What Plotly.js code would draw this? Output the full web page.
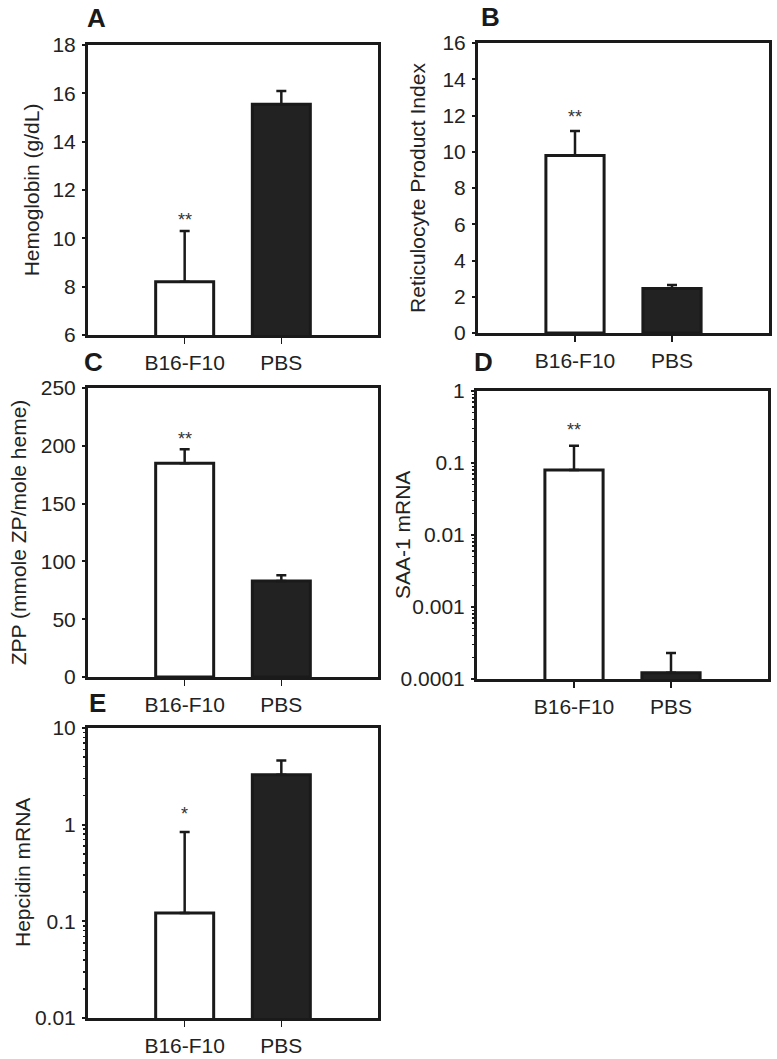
<!DOCTYPE html>
<html><head><meta charset="utf-8">
<script src="https://cdn.plot.ly/plotly-3.0.1.min.js"></script>
<style>html,body{margin:0;padding:0;background:#fff}#chart{width:777px;height:1059px}</style>
</head><body><div id="chart"></div>
<script>
// ---- data ----
const categories = ['B16-F10', 'PBS'];

const hemoglobin = [8.2, 15.55];
const hemoglobinErr = [2.1, 0.55];
const hemoglobinSig = ['**', ''];

const reticulocyte = [9.8, 2.45];
const reticulocyteErr = [1.35, 0.2];
const reticulocyteSig = ['**', ''];

const zpp = [185, 83];
const zppErr = [12, 5];
const zppSig = ['**', ''];

const saa1 = [0.08, 0.000122];
const saa1Err = [0.094, 0.000108];
const saa1Sig = ['**', ''];

const hepcidin = [0.122, 3.29];
const hepcidinErr = [0.718, 1.33];
const hepcidinSig = ['*', ''];

const saa1TickVals = [0.0001, 0.001, 0.01, 0.1, 1];
const saa1TickText = ['0.0001', '0.001', '0.01', '0.1', '1'];
const hepcidinTickVals = [0.01, 0.1, 1, 10];
const hepcidinTickText = ['0.01', '0.1', '1', '10'];

const panelLetters = ['A', 'B', 'C', 'D', 'E'];
const yTitles = ['Hemoglobin (g/dL)', 'Reticulocyte Product Index', 'ZPP (mmole ZP/mole heme)', 'SAA-1 mRNA', 'Hepcidin mRNA'];

// ---- style ----
const W = 777, H = 1059;
const FONT = 'Liberation Sans, Arial, sans-serif';
const INK = '#1a1a1a';
const fillColors = ['#ffffff', '#222222'];

// titleX: when set, the y title is drawn as a rotated annotation at that pixel x
const panels = [
  {vals: hemoglobin, err: hemoglobinErr, sig: hemoglobinSig, log: false, range: [6, 18], dtick: 2,
   px: [88, 378], py: [45, 335], standoff: 8, letter: [96, 18], sigShift: -1},
  {vals: reticulocyte, err: reticulocyteErr, sig: reticulocyteSig, log: false, range: [0, 16], dtick: 2,
   px: [478, 769], py: [43, 333], standoff: 12, letter: [490, 17], sigShift: 2},
  {vals: zpp, err: zppErr, sig: zppSig, log: false, range: [0, 250], dtick: 50,
   px: [88, 378], py: [388, 677], standoff: 9, letter: [93, 362], sigShift: -2},
  {vals: saa1, err: saa1Err, sig: saa1Sig, log: true, range: [-4, 0], tv: saa1TickVals, tt: saa1TickText,
   px: [477, 768], py: [391, 679], titleX: 402, letter: [483, 362], sigShift: 4},
  {vals: hepcidin, err: hepcidinErr, sig: hepcidinSig, log: true, range: [-2, 1], tv: hepcidinTickVals, tt: hepcidinTickText,
   px: [88, 378], py: [728, 1018], titleX: 22, letter: [97, 703], sigShift: 6}
];

const data = [];
const layout = {
  width: W, height: H,
  margin: {l: 0, r: 0, t: 0, b: 0},
  paper_bgcolor: '#fff', plot_bgcolor: '#fff',
  showlegend: false,
  font: {family: FONT, color: '#222', size: 21},
  annotations: []
};

panels.forEach((p, i) => {
  const n = i + 1;
  const xa = n === 1 ? 'xaxis' : 'xaxis' + n;
  const ya = n === 1 ? 'yaxis' : 'yaxis' + n;
  const xr = n === 1 ? 'x' : 'x' + n;
  const yr = n === 1 ? 'y' : 'y' + n;

  data.push({
    type: 'bar', x: categories, y: p.vals, xaxis: xr, yaxis: yr, width: 0.6,
    marker: {color: fillColors, line: {color: INK, width: 3}},
    error_y: {type: 'data', symmetric: false, array: p.err, arrayminus: [0, 0],
              color: INK, thickness: 2.5, width: 5},
    hoverinfo: 'skip'
  });

  layout[xa] = {
    domain: [p.px[0] / W, p.px[1] / W], anchor: yr,
    type: 'category', range: [-1, 2],
    showline: true, linewidth: 3, linecolor: INK, mirror: true,
    ticks: 'outside', ticklen: 6, tickwidth: 1.5, tickcolor: INK,
    ticklabelstandoff: 1,
    showgrid: false, zeroline: false, fixedrange: true,
    tickfont: {family: FONT, size: 21, color: '#222'}
  };
  const yax = {
    domain: [1 - p.py[1] / H, 1 - p.py[0] / H], anchor: xr,
    showline: true, linewidth: 3, linecolor: INK, mirror: true,
    ticks: 'outside', ticklen: 3, tickwidth: 2, tickcolor: INK,
    ticklabelstandoff: 2,
    showgrid: false, zeroline: false, fixedrange: true,
    tickfont: {family: FONT, size: 21, color: '#222'}
  };
  if (p.titleX === undefined) {
    yax.title = {text: yTitles[i], font: {family: FONT, size: 21, color: '#222'}, standoff: p.standoff};
  } else {
    layout.annotations.push({
      xref: 'paper', yref: yr + ' domain', x: p.titleX / W, y: 0.5,
      xanchor: 'center', yanchor: 'middle', textangle: -90, showarrow: false,
      text: yTitles[i], font: {family: FONT, size: 21, color: '#222'}
    });
  }
  if (p.log) {
    Object.assign(yax, {type: 'log', range: p.range, tickmode: 'array', tickvals: p.tv, ticktext: p.tt,
      minor: {ticks: 'outside', ticklen: 2, tickwidth: 1.5, tickcolor: INK, dtick: 'D1', showgrid: false}});
  } else {
    Object.assign(yax, {range: p.range, dtick: p.dtick, tick0: 0});
  }
  layout[ya] = yax;

  // significance marks
  p.sig.forEach((s, j) => {
    if (!s) return;
    const top = p.vals[j] + p.err[j];
    layout.annotations.push({
      xref: xr, yref: yr, x: j, y: p.log ? Math.log10(top) : top,
      text: s, showarrow: false, yanchor: 'bottom', yshift: p.sigShift,
      font: {family: FONT, size: 18, color: '#333'}
    });
  });

  // panel letter
  layout.annotations.push({
    xref: 'paper', yref: 'paper', x: p.letter[0] / W, y: 1 - p.letter[1] / H,
    xanchor: 'center', yanchor: 'middle', showarrow: false,
    text: '<b>' + panelLetters[i] + '</b>',
    font: {family: FONT, size: 26, color: '#1a1a1a'}
  });
});

Plotly.newPlot('chart', data, layout, {staticPlot: true, displayModeBar: false});
</script>
</body></html>
